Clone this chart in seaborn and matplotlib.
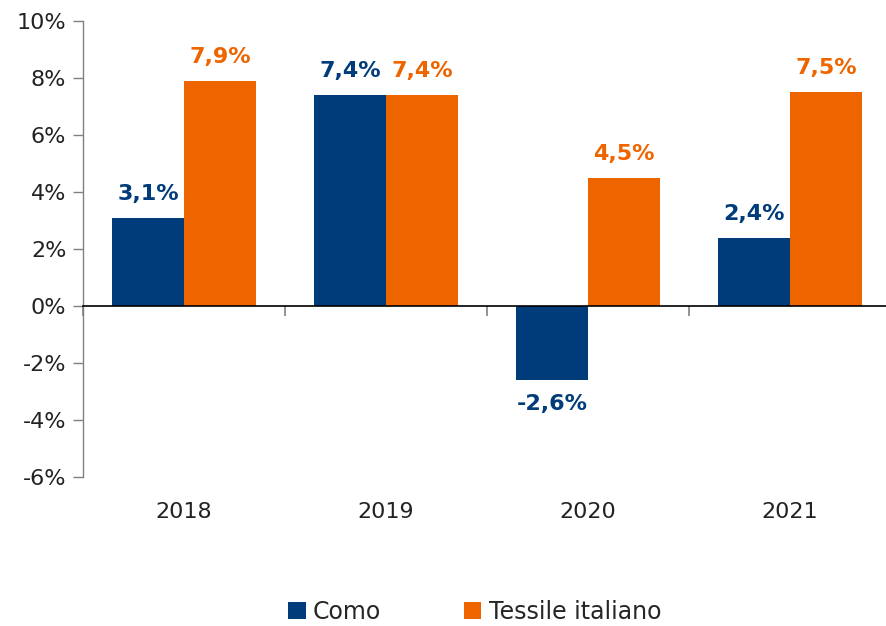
import matplotlib
matplotlib.use("Agg")
import matplotlib.pyplot as plt
import matplotlib.ticker as mticker
import pandas as pd
import seaborn as sns

years = ["2018", "2019", "2020", "2021"]
como = [3.1, 7.4, -2.6, 2.4]
tessile = [7.9, 7.4, 4.5, 7.5]
series_names = ["Como", "Tessile italiano"]
colors = ["#003B7A", "#EE6500"]

df = pd.DataFrame({
	"year": years * 2,
	"value": como + tessile,
	"series": [series_names[0]] * len(years) + [series_names[1]] * len(years),
})

sns.set_theme(style="white")
plt.rcParams["font.family"] = ["DejaVu Sans"]

fig = plt.figure(figsize=(8.87, 6.26), dpi=100)
ax = fig.add_axes([83 / 887, 1 - 477 / 626, 808 / 887, 456 / 626])

sns.barplot(data=df, x="year", y="value", hue="series", palette=colors,
	saturation=1, width=0.713, gap=0, linewidth=0, ax=ax, legend=True)

ax.set_ylim(-6, 10)
ax.set_xlim(-0.5, len(years) - 0.5)
ax.yaxis.set_major_locator(mticker.MultipleLocator(2))
ax.yaxis.set_major_formatter(mticker.FuncFormatter(lambda v, _: f"{v:.0f}%"))
ax.tick_params(axis="y", left=True, direction="out", length=7, width=1, color="#808080",
	labelsize=16, labelcolor="#222222", pad=5)
ax.tick_params(axis="x", bottom=False, length=0, labelsize=16, labelcolor="#222222", pad=18)
ax.set_xlabel("")
ax.set_ylabel("")

for side in ["top", "right", "bottom"]:
	ax.spines[side].set_visible(False)
ax.spines["left"].set_color("#808080")
ax.spines["left"].set_linewidth(1)

# zero line with tick marks between categories
zero = ax.secondary_xaxis(6 / 16)
zero.set_zorder(5)
zero.spines["bottom"].set_color("#000000")
zero.spines["bottom"].set_linewidth(1.2)
zero.set_xticks([i - 0.5 for i in range(len(years) + 1)])
zero.tick_params(axis="x", bottom=True, direction="out", length=7, width=1.2,
	color="#808080", labelbottom=False)

for container, col in zip(ax.containers, colors):
	labels = [f"{v:.1f}%".replace(".", ",") for v in container.datavalues]
	ax.bar_label(container, labels=labels, padding=10, color=col,
		fontsize=16, fontweight="bold")

handles, labs = ax.get_legend_handles_labels()
ax.get_legend().remove()
fig.legend(handles, labs, loc="lower center", bbox_to_anchor=(0.535, -0.03), ncol=2,
	frameon=False, fontsize=17, handlelength=0.75, handleheight=0.75,
	handletextpad=0.3, columnspacing=3.5)

fig.savefig("out.png", dpi=100)
